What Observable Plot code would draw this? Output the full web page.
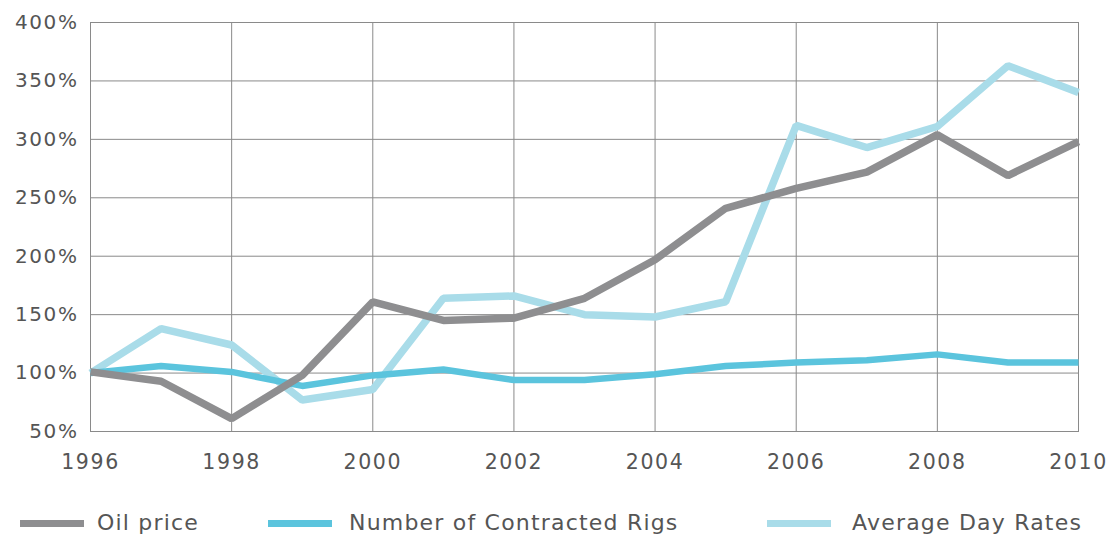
<!DOCTYPE html>
<html>
<head>
<meta charset="utf-8">
<script src="https://cdn.jsdelivr.net/npm/d3@7"></script>
<script src="https://cdn.jsdelivr.net/npm/@observablehq/plot@0.6"></script>
<style>
  html, body { margin: 0; padding: 0; background: #fff; }
  #chart svg text { font-family: "DejaVu Sans", sans-serif; fill: #555; }
  #legend { position: relative; width: 1111px; height: 57px; font-family: "DejaVu Sans", sans-serif; }
  .sw { position: absolute; top: 40px; height: 7px; }
  .lt { position: absolute; top: 31px; font-size: 22px; color: #555; letter-spacing: 1.2px; line-height: 24px; white-space: nowrap; }
</style>
</head>
<body>
<div id="chart"></div>
<div id="legend"></div>
<script>
const years = [1996, 1997, 1998, 1999, 2000, 2001, 2002, 2003, 2004, 2005, 2006, 2007, 2008, 2009, 2010];
const oilPrice = [101, 93, 61, 98, 161, 145, 147, 164, 197, 241, 258, 272, 304, 269, 298];
const contractedRigs = [100, 106, 101, 89, 98, 103, 94, 94, 99, 106, 109, 111, 116, 109, 109];
const dayRates = [100, 138, 124, 77, 86, 164, 166, 150, 148, 161, 312, 293, 311, 363, 340];
const seriesNames = ["Oil price", "Number of Contracted Rigs", "Average Day Rates"];
const seriesColors = ["#8e8e90", "#5bc4dd", "#a9dce9"];
const yTicks = [50, 100, 150, 200, 250, 300, 350, 400];
const xTicks = [1996, 1998, 2000, 2002, 2004, 2006, 2008, 2010];

const seriesValues = [oilPrice, contractedRigs, dayRates];
const rows = [];
seriesNames.forEach((name, i) => {
  years.forEach((yr, j) => rows.push({series: name, year: yr, value: seriesValues[i][j]}));
});
const order = ["Average Day Rates", "Number of Contracted Rigs", "Oil price"];
const widths = {"Oil price": 7.5, "Number of Contracted Rigs": 6.5, "Average Day Rates": 7.5};

const chart = Plot.plot({
  width: 1111,
  height: 480,
  marginLeft: 90,
  marginRight: 33,
  marginTop: 22,
  marginBottom: 49,
  style: {fontSize: "20px", fontFamily: "DejaVu Sans", background: "#fff"},
  x: {domain: [1996, 2010], ticks: xTicks, tickFormat: d => String(d), label: null},
  y: {domain: [50, 400], ticks: yTicks, tickFormat: d => d + "%", label: null},
  marks: [
    Plot.gridX(xTicks, {stroke: "#8a8a8a", strokeOpacity: 1, strokeWidth: 1}),
    Plot.gridY(yTicks, {stroke: "#8a8a8a", strokeOpacity: 1, strokeWidth: 1}),
    Plot.frame({stroke: "#8a8a8a", strokeWidth: 1}),
    Plot.axisX({ticks: xTicks, tickFormat: d => String(d), tickSize: 0, tickPadding: 23, fontSize: 20.5, label: null}),
    Plot.axisY({ticks: yTicks, tickFormat: d => d + "%", tickSize: 0, tickPadding: 12, fontSize: 20, label: null}),
    ...order.map(name => Plot.line(rows.filter(r => r.series === name), {
      x: "year", y: "value",
      stroke: seriesColors[seriesNames.indexOf(name)],
      strokeWidth: widths[name],
      strokeLinejoin: "miter",
      strokeLinecap: "butt"
    }))
  ]
});
chart.querySelectorAll("text").forEach(t => t.setAttribute("letter-spacing", "1.6"));
document.getElementById("chart").appendChild(chart);

const legend = document.getElementById("legend");
const swatchX = [20, 268, 767];
const textX = [97, 349, 852];
seriesNames.forEach((name, i) => {
  const s = document.createElement("div");
  s.className = "sw";
  s.style.left = swatchX[i] + "px";
  s.style.width = "64px";
  s.style.background = seriesColors[i];
  legend.appendChild(s);
  const t = document.createElement("div");
  t.className = "lt";
  t.style.left = textX[i] + "px";
  t.textContent = name;
  legend.appendChild(t);
});
</script>
</body>
</html>
